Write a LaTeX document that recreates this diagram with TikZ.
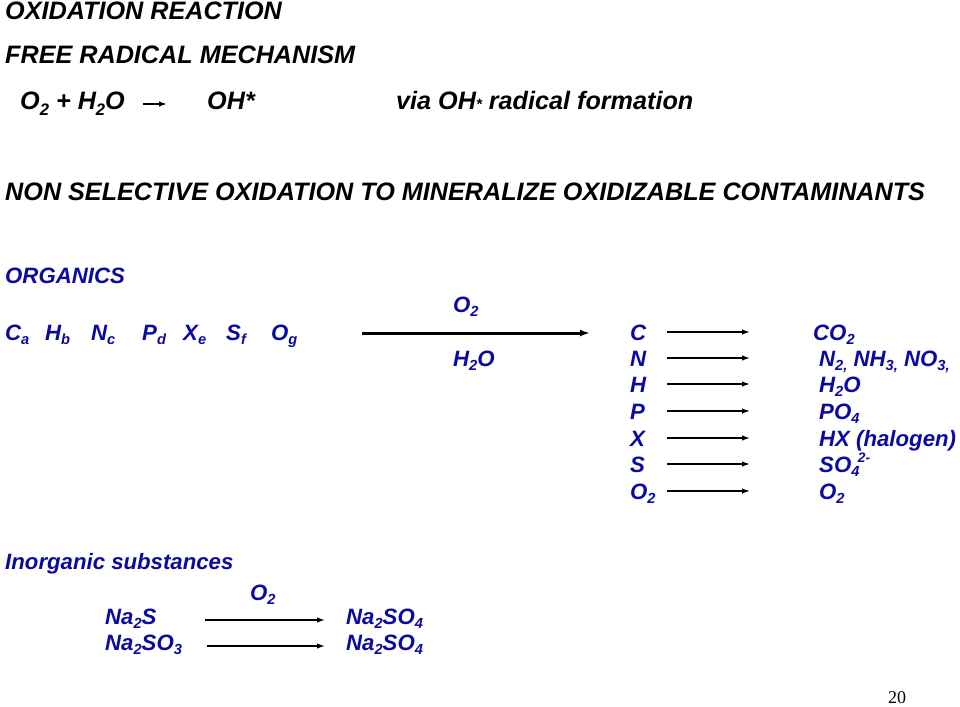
\documentclass[tikz,border=0pt]{standalone}
\usepackage{fontspec}
\setmainfont{Liberation Sans}
\newfontfamily\pagefont{Liberation Serif}
\usetikzlibrary{arrows.meta}
\definecolor{chemblue}{HTML}{0A0AA0}
\newcommand{\dn}[1]{\raisebox{-0.2em}{\scalebox{0.66}{#1}}}
\newcommand{\upx}[1]{\raisebox{0.45em}{\scalebox{0.62}{#1}}}

\begin{document}
\begin{tikzpicture}[x=1pt, y=-1pt, every node/.style={anchor=base west, inner sep=0pt, font=\fontsize{25.2}{30}\selectfont\bfseries\itshape}, >={Latex[length=8pt,width=5.5pt]}]
	\tikzset{chem/.style={text=chemblue, font=\fontsize{22.2}{26}\selectfont\bfseries\itshape}, rxn/.style={->, line width=1.5pt}, bigrxn/.style={-{Latex[length=10pt,width=7pt]}, line width=3pt}}
	\useasboundingbox (0,0) rectangle (960,706);
	% headings
	\node (head) at (5,20) {OXIDATION REACTION};
	\node (mech) at (5,64) {FREE RADICAL MECHANISM};
	\node (react) at (20,110) {O\dn{2} + H\dn{2}O};
	\coordinate (ra) at (143,104); \coordinate (rb) at (167,104);
	\draw[rxn] (ra) -- (rb);
	\node (oh) at (207,110) {OH*};
	\node (via) at (396,110) {via OH{\scalebox{0.6}{*}} radical formation};
	\node (nonsel) at (5,200) {NON SELECTIVE OXIDATION TO MINERALIZE OXIDIZABLE CONTAMINANTS};
	% organics
	\node[chem] (org) at (5,283) {ORGANICS};
	\foreach \x/\e/\s in {5/C/a, 45/H/b, 91/N/c, 142/P/d, 183/X/e, 226/S/f, 271/O/g}
		\node[chem] (org\e) at (\x,340) {\e\dn{\s}};
	\coordinate (biga) at (362,333); \coordinate (bigb) at (590,333);
	\draw[bigrxn] (biga) -- (bigb);
	\node[chem] (oxy) at (453,312) {O\dn{2}};
	\node[chem] (wat) at (453,366) {H\dn{2}O};
	\foreach \i/\yb/\e/\x/\p in {1/340/C/813/CO\dn{2}, 2/366/N/819/{N\dn{2,} NH\dn{3,} NO\dn{3,}}, 3/392/H/819/H\dn{2}O, 4/419/P/819/PO\dn{4}, 5/446/X/819/HX (halogen), 6/472/S/819/SO\dn{4}\hspace{-1.5pt}\upx{2-}, 7/499/O\dn{2}/819/O\dn{2}} {
		\node[chem] (el\i) at (630,\yb) {\e};
		\node[chem] (pr\i) at (\x,\yb) {\p};
		\coordinate (sa\i) at (667,\yb-8); \coordinate (sb\i) at (750,\yb-8);
		\draw[rxn] (sa\i) -- (sb\i);
	}
	% inorganics
	\node[chem] (inorg) at (5,569) {Inorganic substances};
	\node[chem] (oxy2) at (250,600) {O\dn{2}};
	\node[chem] (sulf) at (105,624) {Na\dn{2}S};
	\node[chem] (sulf2) at (346,624) {Na\dn{2}SO\dn{4}};
	\node[chem] (sulfi) at (105,650) {Na\dn{2}SO\dn{3}};
	\node[chem] (sulfi2) at (346,650) {Na\dn{2}SO\dn{4}};
	\coordinate (ia) at (205,620); \coordinate (ib) at (325,620);
	\coordinate (ja) at (207,646); \coordinate (jb) at (325,646);
	\draw[rxn] (ia) -- (ib);
	\draw[rxn] (ja) -- (jb);
	\node[font=\pagefont\fontsize{18}{20}\selectfont] (pnum) at (888,703) {20};
\end{tikzpicture}
\end{document}
